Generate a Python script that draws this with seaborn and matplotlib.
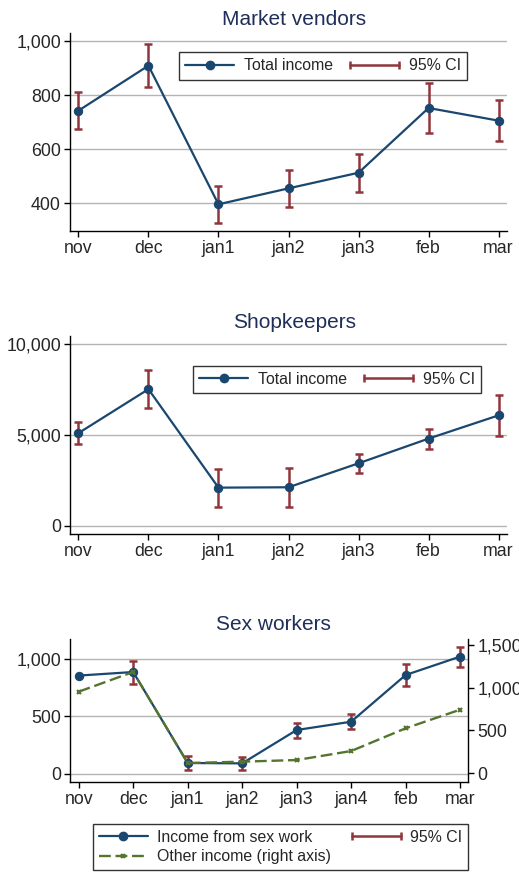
import matplotlib
matplotlib.use('Agg')
import matplotlib.pyplot as plt
from matplotlib.lines import Line2D
from matplotlib.legend_handler import HandlerLine2D
from matplotlib.ticker import FuncFormatter
import seaborn as sns
import numpy as np

# data
months = ['nov', 'dec', 'jan1', 'jan2', 'jan3', 'feb', 'mar']
vendors_income = [743, 910, 396, 455, 513, 753, 706]
vendors_lo = [674, 830, 327, 387, 443, 661, 630]
vendors_hi = [811, 992, 465, 523, 583, 846, 784]

shop_income = [5110, 7530, 2110, 2130, 3450, 4810, 6090]
shop_lo = [4505, 6486, 1064, 1064, 2917, 4257, 4972]
shop_hi = [5697, 8578, 3120, 3174, 3963, 5358, 7230]

months_sw = ['nov', 'dec', 'jan1', 'jan2', 'jan3', 'jan4', 'feb', 'mar']
sex_income = [853, 884, 93, 90, 380, 452, 858, 1018]
sex_lo = [853, 780, 32, 29, 307, 386, 763, 928]
sex_hi = [853, 980, 151, 148, 444, 516, 954, 1102]
other_income = [952, 1182, 120, 136, 155, 260, 525, 742]

BLUE = '#1a476f'
RED = '#90353b'
GREEN = '#55752f'
TITLE = '#1f2f5a'
GRID = '#b4b4b4'
GREEN_DASH = (0, (5, 2))

sns.set_style('white')
plt.rcParams['font.family'] = ['Liberation Sans', 'DejaVu Sans']
plt.rcParams['axes.linewidth'] = 1.0

W, H = 519, 873
fig = plt.figure(figsize=(W / 100, H / 100), dpi=100)

thousands = FuncFormatter(lambda v, p: f'{v:,.0f}')


def style_axis(ax, ylim, yticks, right=False):
    ax.set_ylim(*ylim)
    ax.set_yticks(yticks)
    ax.yaxis.set_major_formatter(thousands)
    ax.set_xlabel('')
    ax.set_ylabel('')
    ax.tick_params(axis='both', labelsize=12.8, length=4, width=1, color='black', pad=2.5,
                   bottom=True, left=not right, right=right)
    for s in ['top', 'right']:
        ax.spines[s].set_visible(False)
    for s in ['left', 'bottom']:
        ax.spines[s].set_color('black')
    ax.grid(False)
    for t in yticks:
        ax.axhline(t, color=GRID, lw=1, zorder=0)


def draw_ci(ax, mid, lo, hi):
    x = np.arange(len(mid))
    mid = np.array(mid)
    err = [mid - np.array(lo), np.array(hi) - mid]
    ax.errorbar(x, mid, yerr=err, fmt='none', ecolor=RED, elinewidth=1.8,
                capsize=2.6, capthick=1.8, zorder=2)


def line_legend(ax, label, ci_label, anchor):
    h1 = Line2D([], [], color=BLUE, lw=1.6, marker='o', markersize=6)
    h2 = Line2D([], [], color=RED, lw=1.8, marker='|', markersize=6, markeredgewidth=1.8)
    leg = ax.legend([h1, h2], [label, ci_label], ncol=2, loc='upper left',
                    bbox_to_anchor=anchor, bbox_transform=fig.transFigure,
                    fontsize=11.4, frameon=True, fancybox=False, borderaxespad=0,
                    handlelength=3.1, handletextpad=0.6, columnspacing=1.1,
                    borderpad=0.4,
                    handler_map={h2: HandlerLine2D(numpoints=2, marker_pad=0)})
    leg.get_frame().set_edgecolor('black')
    leg.get_frame().set_linewidth(1.0)
    return leg


# --- Market vendors ---
ax1 = fig.add_axes([70 / W, 1 - 231 / H, 437 / W, 198 / H])
draw_ci(ax1, vendors_income, vendors_lo, vendors_hi)
sns.lineplot(x=months, y=vendors_income, ax=ax1, color=BLUE, lw=1.6, marker='o',
             markersize=6, markeredgecolor=BLUE, sort=False, zorder=3)
ax1.set_xlim(-0.12, 6.12)
style_axis(ax1, (297, 1031), [400, 600, 800, 1000])
line_legend(ax1, 'Total income', '95% CI', (179 / W, 1 - 52 / H))
fig.text(294 / W, 1 - 25 / H, 'Market vendors', ha='center', va='baseline',
         fontsize=15, color=TITLE)

# --- Shopkeepers ---
ax2 = fig.add_axes([70 / W, 1 - 534.3 / H, 437 / W, 198.3 / H])
draw_ci(ax2, shop_income, shop_lo, shop_hi)
sns.lineplot(x=months, y=shop_income, ax=ax2, color=BLUE, lw=1.6, marker='o',
             markersize=6, markeredgecolor=BLUE, sort=False, zorder=3)
ax2.set_xlim(-0.12, 6.12)
style_axis(ax2, (-459, 10459), [0, 5000, 10000])
line_legend(ax2, 'Total income', '95% CI', (193 / W, 1 - 365.5 / H))
fig.text(294.5 / W, 1 - 327.5 / H, 'Shopkeepers', ha='center', va='baseline',
         fontsize=15, color=TITLE)

# --- Sex workers ---
ax3 = fig.add_axes([70 / W, 1 - 782 / H, 398.3 / W, 143 / H])
ax3r = ax3.twinx()
draw_ci(ax3, sex_income, sex_lo, sex_hi)
sns.lineplot(x=months_sw, y=sex_income, ax=ax3, color=BLUE, lw=1.6, marker='o',
             markersize=6, markeredgecolor=BLUE, sort=False, zorder=3)
sns.lineplot(x=months_sw, y=other_income, ax=ax3r, color=GREEN, lw=1.7, marker='x',
             markersize=3.5, markeredgewidth=1.5, markeredgecolor=GREEN,
             linestyle=GREEN_DASH, sort=False, zorder=4)
ax3.set_xlim(-0.16, 7.15)
style_axis(ax3, (-72, 1171), [0, 500, 1000])
ax3r.set_ylim(-101, 1566)
ax3r.set_yticks([0, 500, 1000, 1500])
ax3r.yaxis.set_major_formatter(thousands)
ax3r.set_ylabel('')
ax3r.tick_params(axis='y', labelsize=12.8, length=4, width=1, color='black', pad=2.5, right=True)
for s in ['top', 'left', 'bottom']:
    ax3r.spines[s].set_visible(False)
ax3r.spines['right'].set_visible(True)
ax3r.spines['right'].set_color('black')
ax3r.grid(False)
ax3.set_zorder(ax3r.get_zorder() - 1)
ax3r.patch.set_visible(False)
ax3.patch.set_visible(False)
fig.text(273.5 / W, 1 - 630.5 / H, 'Sex workers', ha='center', va='baseline',
         fontsize=15, color=TITLE)

hb = Line2D([], [], color=BLUE, lw=1.6, marker='o', markersize=6)
hg = Line2D([], [], color=GREEN, lw=1.7, marker='x', markersize=3.5, markeredgewidth=1.5,
            linestyle=GREEN_DASH)
hr = Line2D([], [], color=RED, lw=1.8, marker='|', markersize=6, markeredgewidth=1.8)
leg = fig.legend([hb, hg, hr], ['Income from sex work', 'Other income (right axis)', '95% CI'],
                 ncol=2, loc='upper left', bbox_to_anchor=(93 / W, 1 - 824 / H),
                 bbox_transform=fig.transFigure, fontsize=11.4, frameon=True, fancybox=False,
                 borderaxespad=0, handlelength=3.1, handletextpad=0.6, columnspacing=1.3,
                 borderpad=0.35, labelspacing=0.3,
                 handler_map={hr: HandlerLine2D(numpoints=2, marker_pad=0)})
leg.get_frame().set_edgecolor('black')
leg.get_frame().set_linewidth(1.0)

fig.savefig('out.png', dpi=100)
